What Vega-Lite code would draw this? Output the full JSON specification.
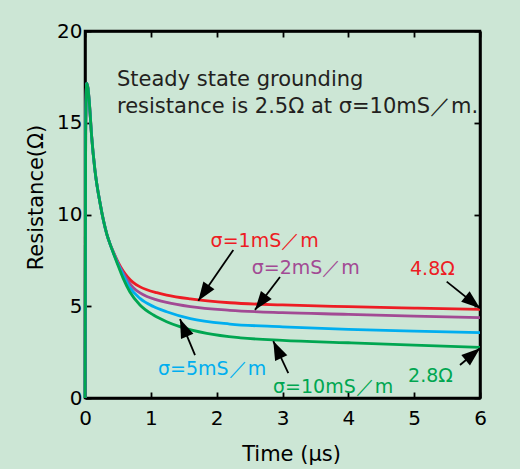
{
  "$schema": "https://vega.github.io/schema/vega-lite/v6.json",
  "width": 395,
  "height": 367,
  "autosize": {"type": "none"},
  "padding": {"left": 85, "top": 31, "right": 40, "bottom": 71},
  "background": "#cce6d5",
  "view": {"stroke": "black", "strokeWidth": 2.5},
  "config": {
    "font": "DejaVu Sans",
    "axis": {
      "grid": false,
      "domainColor": "black",
      "domainWidth": 2.5,
      "tickColor": "black",
      "tickWidth": 1.8,
      "tickSize": -6,
      "labelColor": "black",
      "labelFontSize": 20,
      "labelFlush": false,
      "labelOverlap": false,
      "titleColor": "black",
      "titleFontWeight": "normal",
      "titleFontSize": 21
    }
  },
  "datasets": {
    "curves": [
      {"sigma": "1mS/m", "t": 0, "R": 0}, {"sigma": "1mS/m", "t": 0.01, "R": 14.5}, {"sigma": "1mS/m", "t": 0.026, "R": 17.15}, {"sigma": "1mS/m", "t": 0.045, "R": 16.9}, {"sigma": "1mS/m", "t": 0.066, "R": 16.1}, {"sigma": "1mS/m", "t": 0.1, "R": 14.3}, {"sigma": "1mS/m", "t": 0.15, "R": 12.45}, {"sigma": "1mS/m", "t": 0.23, "R": 10.6}, {"sigma": "1mS/m", "t": 0.33, "R": 8.95}, {"sigma": "1mS/m", "t": 0.38, "R": 8.4},
      {"sigma": "1mS/m", "t": 0.43, "R": 7.97}, {"sigma": "1mS/m", "t": 0.5, "R": 7.42}, {"sigma": "1mS/m", "t": 0.58, "R": 6.92}, {"sigma": "1mS/m", "t": 0.65, "R": 6.58}, {"sigma": "1mS/m", "t": 0.73, "R": 6.3}, {"sigma": "1mS/m", "t": 0.83, "R": 6.07}, {"sigma": "1mS/m", "t": 0.94, "R": 5.9}, {"sigma": "1mS/m", "t": 1.09, "R": 5.74}, {"sigma": "1mS/m", "t": 1.24, "R": 5.61}, {"sigma": "1mS/m", "t": 1.6, "R": 5.4}, {"sigma": "1mS/m", "t": 2.2, "R": 5.19}, {"sigma": "1mS/m", "t": 3, "R": 5.07}, {"sigma": "1mS/m", "t": 4, "R": 4.98}, {"sigma": "1mS/m", "t": 5, "R": 4.9}, {"sigma": "1mS/m", "t": 6, "R": 4.83},
      {"sigma": "2mS/m", "t": 0, "R": 0}, {"sigma": "2mS/m", "t": 0.01, "R": 14.5}, {"sigma": "2mS/m", "t": 0.026, "R": 17.15}, {"sigma": "2mS/m", "t": 0.045, "R": 16.9}, {"sigma": "2mS/m", "t": 0.066, "R": 16.1}, {"sigma": "2mS/m", "t": 0.1, "R": 14.3}, {"sigma": "2mS/m", "t": 0.15, "R": 12.45}, {"sigma": "2mS/m", "t": 0.23, "R": 10.6}, {"sigma": "2mS/m", "t": 0.33, "R": 8.95}, {"sigma": "2mS/m", "t": 0.38, "R": 8.4},
      {"sigma": "2mS/m", "t": 0.43, "R": 7.95}, {"sigma": "2mS/m", "t": 0.5, "R": 7.37}, {"sigma": "2mS/m", "t": 0.58, "R": 6.82}, {"sigma": "2mS/m", "t": 0.65, "R": 6.4}, {"sigma": "2mS/m", "t": 0.73, "R": 6.02}, {"sigma": "2mS/m", "t": 0.83, "R": 5.74}, {"sigma": "2mS/m", "t": 0.94, "R": 5.53}, {"sigma": "2mS/m", "t": 1.09, "R": 5.35}, {"sigma": "2mS/m", "t": 1.24, "R": 5.21}, {"sigma": "2mS/m", "t": 1.6, "R": 4.98}, {"sigma": "2mS/m", "t": 2.2, "R": 4.78}, {"sigma": "2mS/m", "t": 3, "R": 4.65}, {"sigma": "2mS/m", "t": 4, "R": 4.56}, {"sigma": "2mS/m", "t": 5, "R": 4.46}, {"sigma": "2mS/m", "t": 6, "R": 4.38},
      {"sigma": "5mS/m", "t": 0, "R": 0}, {"sigma": "5mS/m", "t": 0.01, "R": 14.5}, {"sigma": "5mS/m", "t": 0.026, "R": 17.15}, {"sigma": "5mS/m", "t": 0.045, "R": 16.9}, {"sigma": "5mS/m", "t": 0.066, "R": 16.1}, {"sigma": "5mS/m", "t": 0.1, "R": 14.3}, {"sigma": "5mS/m", "t": 0.15, "R": 12.45}, {"sigma": "5mS/m", "t": 0.23, "R": 10.6}, {"sigma": "5mS/m", "t": 0.33, "R": 8.95}, {"sigma": "5mS/m", "t": 0.38, "R": 8.4},
      {"sigma": "5mS/m", "t": 0.43, "R": 7.92}, {"sigma": "5mS/m", "t": 0.5, "R": 7.3}, {"sigma": "5mS/m", "t": 0.58, "R": 6.7}, {"sigma": "5mS/m", "t": 0.68, "R": 6.02}, {"sigma": "5mS/m", "t": 0.835, "R": 5.43}, {"sigma": "5mS/m", "t": 1.04, "R": 4.98}, {"sigma": "5mS/m", "t": 1.24, "R": 4.7}, {"sigma": "5mS/m", "t": 1.6, "R": 4.32}, {"sigma": "5mS/m", "t": 2.2, "R": 4.03}, {"sigma": "5mS/m", "t": 3, "R": 3.88}, {"sigma": "5mS/m", "t": 4, "R": 3.74}, {"sigma": "5mS/m", "t": 5, "R": 3.64}, {"sigma": "5mS/m", "t": 6, "R": 3.56},
      {"sigma": "10mS/m", "t": 0, "R": 0}, {"sigma": "10mS/m", "t": 0.01, "R": 14.5}, {"sigma": "10mS/m", "t": 0.026, "R": 17.15}, {"sigma": "10mS/m", "t": 0.045, "R": 16.9}, {"sigma": "10mS/m", "t": 0.066, "R": 16.1}, {"sigma": "10mS/m", "t": 0.1, "R": 14.3}, {"sigma": "10mS/m", "t": 0.15, "R": 12.45}, {"sigma": "10mS/m", "t": 0.23, "R": 10.6}, {"sigma": "10mS/m", "t": 0.33, "R": 8.95}, {"sigma": "10mS/m", "t": 0.38, "R": 8.4},
      {"sigma": "10mS/m", "t": 0.43, "R": 7.9}, {"sigma": "10mS/m", "t": 0.48, "R": 7.43}, {"sigma": "10mS/m", "t": 0.58, "R": 6.52}, {"sigma": "10mS/m", "t": 0.68, "R": 5.79}, {"sigma": "10mS/m", "t": 0.835, "R": 5.07}, {"sigma": "10mS/m", "t": 1.04, "R": 4.52}, {"sigma": "10mS/m", "t": 1.24, "R": 4.16}, {"sigma": "10mS/m", "t": 1.44, "R": 3.89}, {"sigma": "10mS/m", "t": 1.85, "R": 3.52}, {"sigma": "10mS/m", "t": 2.36, "R": 3.28}, {"sigma": "10mS/m", "t": 3, "R": 3.14}, {"sigma": "10mS/m", "t": 4, "R": 3.01}, {"sigma": "10mS/m", "t": 5, "R": 2.88}, {"sigma": "10mS/m", "t": 6, "R": 2.76}
    ],
    "labels": [
      {"sigma": "1mS/m", "text": "σ=1mS／m", "t": 1.908, "R": 8.21},
      {"sigma": "2mS/m", "text": "σ=2mS／m", "t": 2.532, "R": 6.76},
      {"sigma": "1mS/m", "text": "4.8Ω", "t": 4.937, "R": 6.7},
      {"sigma": "5mS/m", "text": "σ=5mS／m", "t": 1.109, "R": 1.25},
      {"sigma": "10mS/m", "text": "σ=10mS／m", "t": 2.856, "R": 0.26},
      {"sigma": "10mS/m", "text": "2.8Ω", "t": 4.907, "R": 0.89}
    ],
    "arrows": [
      {"t1": 2.253, "R1": 8.07, "t2": 1.721, "R2": 5.3},
      {"t1": 2.962, "R1": 6.59, "t2": 2.582, "R2": 4.8},
      {"t1": 5.494, "R1": 6.34, "t2": 6.0, "R2": 4.89},
      {"t1": 1.671, "R1": 2.34, "t2": 1.443, "R2": 4.3},
      {"t1": 3.088, "R1": 1.35, "t2": 2.86, "R2": 3.1},
      {"t1": 5.696, "R1": 1.8, "t2": 6.0, "R2": 2.71}
    ],
    "notes": [
      {"text": "Steady state grounding", "t": 0.486, "R": 17.0},
      {"text": "resistance is 2.5Ω at σ=10mS／m.", "t": 0.486, "R": 15.55}
    ]
  },
  "resolve": {"axis": {"x": "independent", "y": "independent"}},
  "layer": [
    {
      "data": {"name": "curves"},
      "mark": {"type": "line", "strokeWidth": 2.8, "interpolate": "monotone"},
      "encoding": {
        "x": {
          "field": "t", "type": "quantitative",
          "scale": {"domain": [0, 6], "nice": false},
          "axis": {"orient": "bottom", "values": [0, 1, 2, 3, 4, 5, 6], "labelPadding": 16, "title": "Time (μs)", "titleX": 206, "titleY": 62, "titleBaseline": "alphabetic", "titleAlign": "center", "domainColor": "black", "domainWidth": 2.5, "tickColor": "black", "tickSize": -6, "tickWidth": 1.8}
        },
        "y": {
          "field": "R", "type": "quantitative",
          "scale": {"domain": [0, 20], "nice": false},
          "axis": {"orient": "left", "values": [0, 5, 10, 15, 20], "labelPadding": 9, "title": "Resistance(Ω)", "titleX": -49, "titleY": 166, "titleBaseline": "middle", "titleAlign": "center", "titleAngle": -90, "domainColor": "black", "domainWidth": 2.5, "tickColor": "black", "tickSize": -6, "tickWidth": 1.8}
        },
        "color": {
          "field": "sigma", "type": "nominal",
          "scale": {"domain": ["1mS/m", "2mS/m", "5mS/m", "10mS/m"], "range": ["#ed1c24", "#a24a94", "#00aeef", "#00a651"]},
          "legend": null
        }
      }
    },
    {
      "data": {"name": "arrows"},
      "mark": {"type": "rule", "color": "black", "strokeWidth": 1.8},
      "encoding": {
        "x": {"field": "t1", "type": "quantitative", "axis": null},
        "y": {"field": "R1", "type": "quantitative", "axis": null},
        "x2": {"field": "t2"},
        "y2": {"field": "R2"}
      }
    },
    {
      "data": {"name": "arrows"},
      "transform": [
        {"calculate": "atan2((datum.t2 - datum.t1) * 65.83, (datum.R2 - datum.R1) * 18.35) * 180 / PI", "as": "ang"}
      ],
      "mark": {"type": "point", "shape": "M0,0 L-0.36,1 L0.36,1 Z", "filled": true, "color": "black", "opacity": 1, "size": 1400, "strokeWidth": 0},
      "encoding": {
        "x": {"field": "t2", "type": "quantitative", "axis": null},
        "y": {"field": "R2", "type": "quantitative", "axis": null},
        "angle": {"field": "ang", "type": "quantitative", "scale": null}
      }
    },
    {
      "data": {"name": "labels"},
      "mark": {"type": "text", "align": "left", "baseline": "alphabetic", "fontSize": 19},
      "encoding": {
        "x": {"field": "t", "type": "quantitative", "axis": null},
        "y": {"field": "R", "type": "quantitative", "axis": null},
        "text": {"field": "text"},
        "color": {"field": "sigma", "type": "nominal", "legend": null}
      }
    },
    {
      "data": {"name": "notes"},
      "mark": {"type": "text", "align": "left", "baseline": "alphabetic", "fontSize": 21, "color": "#231f20"},
      "encoding": {
        "x": {"field": "t", "type": "quantitative", "axis": {"orient": "top", "labels": false, "title": null, "values": [0, 1, 2, 3, 4, 5, 6], "domainColor": "black", "domainWidth": 2.5, "tickColor": "black", "tickSize": -6, "tickWidth": 1.8}},
        "y": {"field": "R", "type": "quantitative", "axis": {"orient": "right", "labels": false, "title": null, "values": [0, 5, 10, 15, 20], "domainColor": "black", "domainWidth": 2.5, "tickColor": "black", "tickSize": -6, "tickWidth": 1.8}},
        "text": {"field": "text"}
      }
    }
  ]
}
